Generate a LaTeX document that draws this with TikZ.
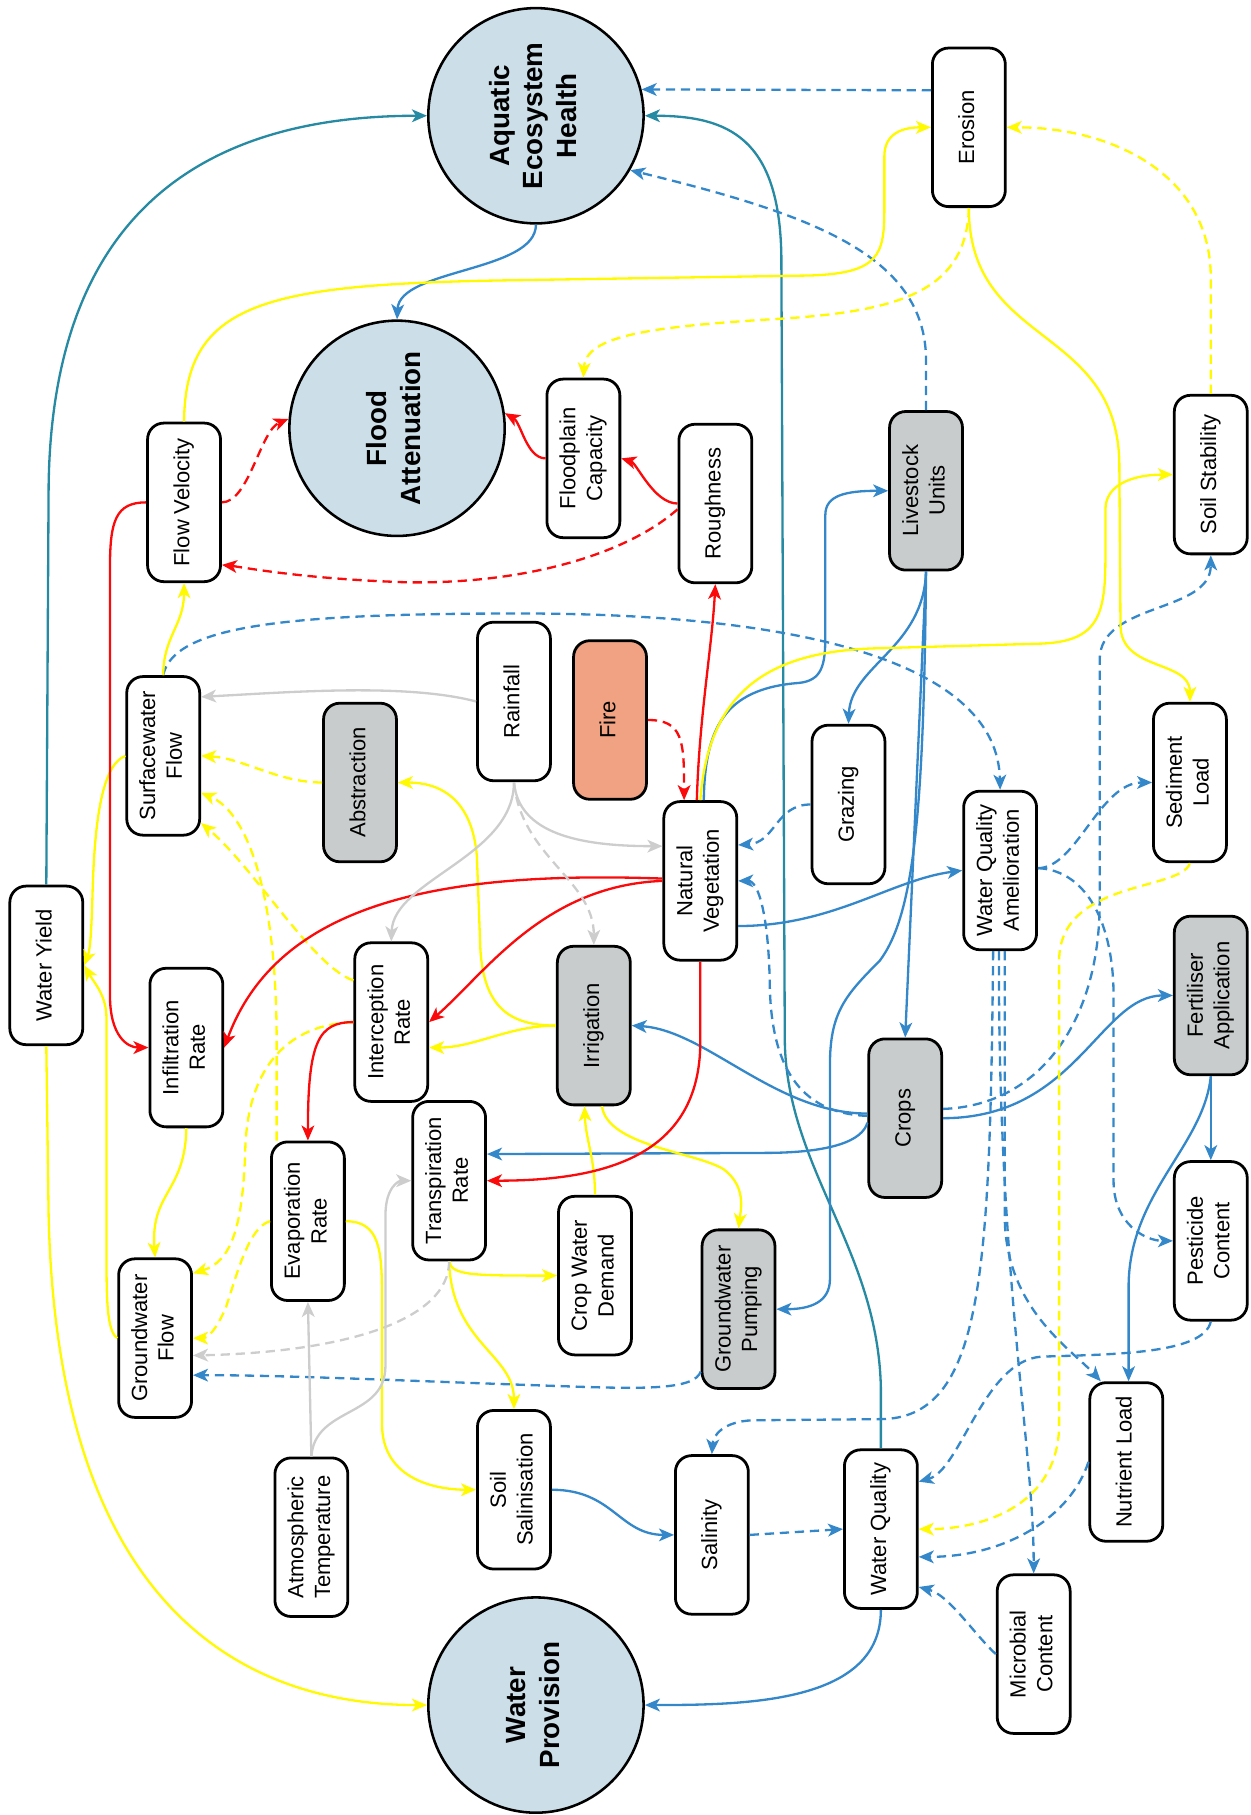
\documentclass[tikz,border=0pt]{standalone}
\usepackage{fontspec}
\usepackage{graphicx}
\setmainfont{Liberation Sans}
\usetikzlibrary{arrows.meta,calc}
\definecolor{cblue}{RGB}{52,136,202}
\definecolor{cteal}{RGB}{38,138,163}
\definecolor{cyel}{RGB}{255,250,0}
\definecolor{cred}{RGB}{250,10,10}
\definecolor{cgray}{RGB}{205,205,205}
\definecolor{boxgray}{RGB}{200,204,204}
\definecolor{firec}{RGB}{240,162,130}
\definecolor{circfill}{RGB}{204,222,232}
\newcommand{\rt}[1]{\rotatebox{90}{\begin{tabular}{@{}c@{}}#1\end{tabular}}}
\tikzset{
 box/.style={draw=black, line width=2.4pt, rounded corners=14pt, minimum width=63pt, minimum height=137pt, inner sep=0pt, fill=white, font=\fontsize{19}{23}\selectfont},
 gbox/.style={box, fill=boxgray},
 circ/.style={circle, draw=black, line width=2.2pt, fill=circfill, minimum size=186pt, inner sep=0pt, font=\bfseries\fontsize{24}{29}\selectfont},
 con/.style={line width=2pt, -{Stealth[length=13pt,width=11pt,inset=3.5pt]}},
 dsh/.style={dash pattern=on 8pt off 5pt},
 bl/.style={con, draw=cblue},
 tl/.style={con, draw=cteal},
 bld/.style={con, dsh, draw=cblue},
 yl/.style={con, draw=cyel},
 yld/.style={con, dsh, draw=cyel},
 rd/.style={con, draw=cred},
 rdd/.style={con, dsh, draw=cred},
 gy/.style={con, draw=cgray},
 gyd/.style={con, dsh, draw=cgray},
}
\begin{document}
\begin{tikzpicture}[x=1pt,y=-1pt]
\useasboundingbox (0,0) rectangle (1080,1568);
% nodes
\node[circ] (aeh) at (463,100) {\rt{Aquatic\\Ecosystem\\Health}};
\node[circ] (fl) at (343,370) {\rt{Flood\\Attenuation}};
\node[circ] (wp) at (463,1473) {\rt{Water\\Provision}};
\node[box] (er) at (837,110) {\rt{Erosion}};
\node[box] (fpc) at (504,396) {\rt{Floodplain\\Capacity}};
\node[box] (rg) at (618,435) {\rt{Roughness}};
\node[gbox] (ls) at (800,424) {\rt{Livestock\\Units}};
\node[box] (ss2) at (1046,410) {\rt{Soil Stability}};
\node[box] (fv) at (159,434) {\rt{Flow Velocity}};
\node[box] (rf) at (444,606) {\rt{Rainfall}};
\node[box, fill=firec] (fire) at (527,622) {\rt{Fire}};
\node[box] (swf) at (141,653) {\rt{Surfacewater\\Flow}};
\node[gbox] (ab) at (311,676) {\rt{Abstraction}};
\node[box] (nv) at (605,761) {\rt{Natural\\Vegetation}};
\node[box] (gr) at (733,695) {\rt{Grazing}};
\node[box] (wqa) at (864,752) {\rt{Water Quality\\Amelioration}};
\node[box] (sl) at (1028,676) {\rt{Sediment\\Load}};
\node[box] (wy) at (40,834) {\rt{Water Yield}};
\node[box] (inf) at (161,905) {\rt{Infiltration\\Rate}};
\node[box] (ir) at (338,883) {\rt{Interception\\Rate}};
\node[gbox] (irr) at (513,886) {\rt{Irrigation}};
\node[gbox] (cr) at (782,966) {\rt{Crops}};
\node[gbox] (fert) at (1046,860) {\rt{Fertiliser\\Application}};
\node[box] (ev) at (266,1055) {\rt{Evaporation\\Rate}};
\node[box] (tr) at (388,1020) {\rt{Transpiration\\Rate}};
\node[box] (cwd) at (514,1102) {\rt{Crop Water\\Demand}};
\node[gbox] (gwp) at (638,1131) {\rt{Groundwater\\Pumping}};
\node[box] (pc) at (1046,1072) {\rt{Pesticide\\Content}};
\node[box] (gwf) at (134,1156) {\rt{Groundwater\\Flow}};
\node[box] (ssal) at (444,1287) {\rt{Soil\\Salinisation}};
\node[box] (atm) at (269,1328) {\rt{Atmospheric\\Temperature}};
\node[box] (sal) at (615,1326) {\rt{Salinity}};
\node[box] (wq) at (761,1321) {\rt{Water Quality}};
\node[box] (nl) at (973,1263) {\rt{Nutrient Load}};
\node[box] (mc) at (893,1429) {\rt{Microbial\\Content}};
% blue / teal solid
\draw[tl] (wy.north) -- (42,420) .. controls (45,180) and (180,100) .. (aeh.west);
\draw[bl] (aeh.south) .. controls (463,235) and (345,232) .. (fl.north);
\draw[tl] (wq.north) -- (761,1200) .. controls (759,1080) and (680,1010) .. (678,900) -- (675,220) .. controls (673,120) and (630,100) .. (aeh.east);
\draw[bl] ([xshift=3pt]nv.north) .. controls (609,630) and (625,595) .. (690,590) .. controls (710,588) and (713,575) .. (713,550) -- (713,445) .. controls (713,428) and (730,424) .. (ls.west);
\draw[bl] (ls.south) .. controls (798,560) and (735,575) .. (gr.north);
\draw[bl] (ls.south) -- (cr.north);
\draw[bl] (ls.south) .. controls (798,700) and (790,790) .. (760,830) .. controls (730,860) and (717,875) .. (717,920) -- (717,1105) .. controls (717,1125) and (700,1131) .. (gwp.east);
\draw[bl] ([yshift=-39pt]nv.east) .. controls (720,800) and (770,760) .. (wqa.west);
\draw[bl] ([yshift=4pt]cr.west) .. controls (670,962) and (610,890) .. (irr.east);
\draw[bl] ([yshift=-4pt]cr.west) .. controls (745,985) and (720,996) .. (660,996) -- ([yshift=23pt]tr.east);
\draw[bl] (cr.east) .. controls (930,966) and (950,860) .. (fert.west);
\draw[bl] (fert.south) -- (pc.north);
\draw[bl] (fert.south) .. controls (1040,990) and (976,1030) .. (975,1110) -- ([xshift=2pt]nl.north);
\draw[bl] (ssal.east) .. controls (530,1287) and (535,1326) .. (sal.west);
\draw[bl] (wq.south) .. controls (761,1470) and (650,1473) .. (wp.east);
% blue dashed
\draw[bld] ([yshift=32pt]er.west) -- (aeh.14);
\draw[bld] (ls.north) -- (800,310) .. controls (799,220) and (700,185) .. (aeh.-30);
\draw[bld] (swf.north) .. controls (150,540) and (250,530) .. (450,530) .. controls (700,530) and (862,575) .. (wqa.north);
\draw[bld] (gr.west) .. controls (670,695) and (670,728) .. ([yshift=31pt]nv.east);
\draw[bld] ([yshift=2pt]cr.west) .. controls (690,962) and (666,920) .. (665,850) .. controls (664,790) and (655,761) .. (nv.east);
\draw[bld] ([yshift=8pt]cr.east) .. controls (900,955) and (950,880) .. (950,780) -- (950,570) .. controls (950,520) and (1046,530) .. (ss2.south);
\draw[bld] ([yshift=2pt]wqa.east) .. controls (930,750) and (950,676) .. (sl.west);
\draw[bld] ([yshift=2pt]wqa.east) .. controls (940,752) and (962,800) .. (962,860) -- (962,1020) .. controls (962,1058) and (990,1072) .. (pc.west);
\draw[bld] ([xshift=4pt]wqa.south) -- (868,1050) .. controls (868,1130) and (925,1165) .. ([xshift=-22pt]nl.north);
\draw[bld] ([xshift=-1pt]wqa.south) .. controls (862,1100) and (893,1250) .. (mc.north);
\draw[bld] ([xshift=-6pt]wqa.south) .. controls (855,1100) and (850,1226) .. (760,1226) -- (650,1227) .. controls (625,1228) and (616,1240) .. (sal.north);
\draw[bld] (sal.east) -- (wq.west);
\draw[bld] (pc.south) .. controls (1040,1170) and (960,1170) .. (900,1172) .. controls (850,1175) and (830,1270) .. ([yshift=41pt]wq.east);
\draw[bld] (nl.west) .. controls (925,1310) and (870,1345) .. ([yshift=-24pt]wq.east);
\draw[bld] (mc.west) .. controls (840,1410) and (820,1378) .. ([yshift=-50pt]wq.east);
\draw[bld] ([yshift=-54pt]gwp.west) .. controls (600,1200) and (560,1200) .. (500,1198) .. controls (350,1193) and (250,1188) .. ([yshift=-32pt]gwf.east);
% yellow solid
\draw[yl] (fv.north) .. controls (160,260) and (230,245) .. (450,242) -- (700,238) .. controls (760,236) and (764,220) .. (764,180) -- (764,135) .. controls (764,115) and (780,110) .. (er.west);
\draw[yl] (er.south) .. controls (837,300) and (965,280) .. (967,400) -- (968,540) .. controls (968,580) and (1028,570) .. (sl.north);
\draw[yl] (swf.north) .. controls (141,550) and (159,540) .. (fv.south);
\draw[yl] (swf.west) .. controls (90,660) and (82,700) .. (80,770) .. controls (79,805) and (78,820) .. (wy.east);
\draw[yl] (gwf.west) .. controls (92,1150) and (92,1120) .. (92,1080) -- (92,880) .. controls (92,860) and (82,850) .. (wy.east);
\draw[yl] (wy.south) -- (42,1050) .. controls (50,1400) and (220,1473) .. (wp.west);
\draw[yl] ([xshift=0pt]nv.north) .. controls (612,600) and (660,562) .. (760,560) -- (900,556) .. controls (950,554) and (955,530) .. (955,480) -- (955,440) .. controls (955,418) and (980,410) .. (ss2.west);
\draw[yl] (irr.west) .. controls (440,886) and (410,905) .. ([yshift=-22pt]ir.east);
\draw[yl] (irr.west) .. controls (440,886) and (418,870) .. (415,820) -- (412,740) .. controls (408,690) and (380,676) .. (ab.east);
\draw[yl] ([xshift=7pt]irr.south) .. controls (525,990) and (600,995) .. (625,1010) .. controls (645,1025) and (640,1045) .. (gwp.north);
\draw[yl] (cwd.north) .. controls (514,1000) and (506,985) .. ([xshift=-8pt]irr.south);
\draw[yl] (tr.south) .. controls (390,1102) and (410,1102) .. (cwd.west);
\draw[yl] (tr.south) .. controls (390,1160) and (444,1170) .. (ssal.north);
\draw[yl] (ev.east) .. controls (328,1055) and (330,1080) .. (330,1120) -- (330,1230) .. controls (330,1280) and (380,1287) .. (ssal.west);
\draw[yl] (inf.south) .. controls (160,1030) and (130,1030) .. (gwf.north);
% yellow dashed
\draw[yld] (er.south) .. controls (835,250) and (780,268) .. (680,275) .. controls (560,282) and (506,290) .. (fpc.north);
\draw[yld] (ss2.north) -- (1046,240) .. controls (1046,150) and (960,110) .. (er.east);
\draw[yld] (ab.west) .. controls (240,676) and (210,655) .. (swf.east);
\draw[yld] ([yshift=36pt]ir.west) .. controls (270,835) and (220,750) .. ([yshift=-58pt]swf.east);
\draw[yld] ([xshift=-27pt]ev.north) -- (239,900) .. controls (239,760) and (210,700) .. ([yshift=-32pt]swf.east);
\draw[yld] (ir.west) .. controls (250,885) and (215,920) .. (212,990) .. controls (210,1060) and (200,1090) .. ([yshift=56pt]gwf.east);
\draw[yld] (ev.west) .. controls (215,1060) and (205,1100) .. (195,1130) .. controls (187,1148) and (180,1156) .. (gwf.east);
\draw[yld] (sl.south) .. controls (1020,770) and (915,760) .. (915,830) -- (915,1230) .. controls (915,1300) and (850,1321) .. (wq.east);
% red
\draw[rd] (fv.west) .. controls (100,434) and (95,450) .. (95,490) -- (95,860) .. controls (95,895) and (110,905) .. (inf.west);
\draw[rd] (fpc.west) .. controls (455,396) and (450,365) .. (fl.8);
\draw[rd] (rg.west) .. controls (565,435) and (550,400) .. (fpc.east);
\draw[rd] ([xshift=-3pt]nv.north) .. controls (604,620) and (615,560) .. (rg.south);
\draw[rd] ([yshift=2pt]nv.west) .. controls (380,752) and (240,780) .. (inf.east);
\draw[rd] (nv.west) .. controls (470,765) and (420,840) .. (ir.east);
\draw[rd] (nv.south) -- (605,900) .. controls (605,1000) and (520,1020) .. (tr.east);
\draw[rd] (ir.west) .. controls (275,883) and (266,900) .. (ev.north);
% red dashed
\draw[rdd] (fv.east) .. controls (215,434) and (225,372) .. (fl.175);
\draw[rdd] ([yshift=-5pt]rg.west) .. controls (540,480) and (450,505) .. (350,503) .. controls (260,500) and (210,490) .. ([yshift=-54pt]fv.east);
\draw[rdd] (fire.east) .. controls (590,622) and (591,640) .. ([xshift=-14pt]nv.north);
% gray
\draw[gy] (rf.west) .. controls (350,590) and (250,598) .. ([yshift=51pt]swf.east);
\draw[gy] (rf.south) .. controls (448,720) and (500,731) .. ([yshift=30pt]nv.west);
\draw[gy] (rf.south) .. controls (444,740) and (340,760) .. (ir.north);
\draw[gyd] (rf.south) .. controls (450,740) and (513,760) .. (irr.north);
\draw[gy] (atm.north) -- (ev.south);
\draw[gy] (atm.north) .. controls (272,1215) and (333,1225) .. (333,1180) -- (333,1050) .. controls (333,1025) and (345,1020) .. (tr.west);
\draw[gyd] (tr.south) .. controls (388,1140) and (300,1168) .. ([yshift=-15pt]gwf.east);
\end{tikzpicture}
\end{document}
